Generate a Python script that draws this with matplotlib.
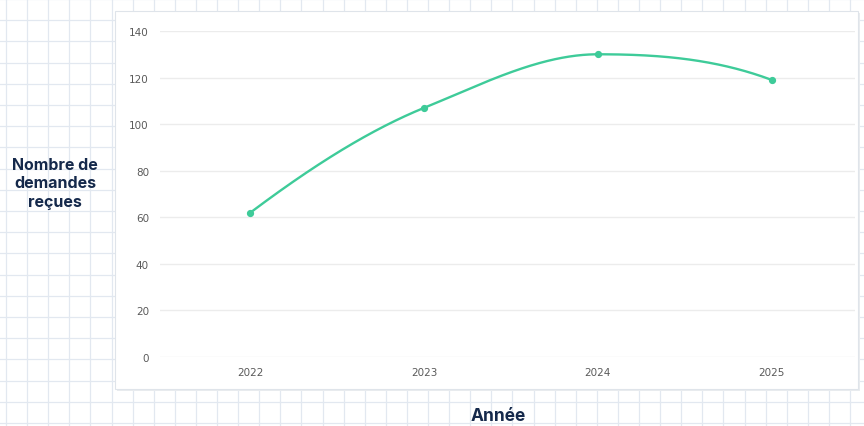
import numpy as np
import matplotlib
matplotlib.use("Agg")
import matplotlib.pyplot as plt
from matplotlib.patches import Rectangle

years = [2022, 2023, 2024, 2025]
demandes = [62, 107, 130, 119]
y_ticks = [0, 20, 40, 60, 80, 100, 120, 140]

W, H = 864, 427
navy = "#15294b"
green = "#3ecb99"


def pchip(x, y, n=200):
    # monotone cubic curve through the points (Fritsch-Carlson)
    x = np.asarray(x, float)
    y = np.asarray(y, float)
    h = np.diff(x)
    d = np.diff(y) / h
    m = np.zeros_like(y)
    for i in range(1, len(y) - 1):
        if d[i - 1] * d[i] > 0:
            w1 = 2 * h[i] + h[i - 1]
            w2 = h[i] + 2 * h[i - 1]
            m[i] = (w1 + w2) / (w1 / d[i - 1] + w2 / d[i])
    m[0] = ((2 * h[0] + h[1]) * d[0] - h[0] * d[1]) / (h[0] + h[1])
    m[-1] = ((2 * h[-1] + h[-2]) * d[-1] - h[-1] * d[-2]) / (h[-1] + h[-2])
    xs, ys = [], []
    for i in range(len(h)):
        t = np.linspace(0, 1, n)
        h00 = 2 * t**3 - 3 * t**2 + 1
        h10 = t**3 - 2 * t**2 + t
        h01 = -2 * t**3 + 3 * t**2
        h11 = t**3 - t**2
        xs.append(x[i] + t * h[i])
        ys.append(h00 * y[i] + h10 * h[i] * m[i] + h01 * y[i + 1] + h11 * h[i] * m[i + 1])
    return np.concatenate(xs), np.concatenate(ys)


fig = plt.figure(figsize=(W / 100, H / 100), dpi=100)
fig.patch.set_facecolor("white")

# grid paper background, in pixel coordinates
bg = fig.add_axes([0, 0, 1, 1])
bg.set_xlim(0, W)
bg.set_ylim(H, 0)
bg.axis("off")
for gx in np.arange(6, W, 21.1):
    bg.axvline(gx, color="#e2e8f0", lw=0.9)
for gy in np.arange(0, H, 21.2):
    bg.axhline(gy, color="#e2e8f0", lw=0.9)

# white panel with a faint edge
px0, py0, px1, py1 = 115, 12, 858, 390
bg.add_patch(Rectangle((px0 + 1.5, py0 + 1.5), px1 - px0, py1 - py0,
                       facecolor="#e9ecef", edgecolor="none", zorder=2))
bg.add_patch(Rectangle((px0, py0), px1 - px0, py1 - py0,
                       facecolor="white", edgecolor="#dfe4ea", lw=0.8, zorder=3))

# data area
ax0, ay0, ax1, ay1 = 160, 32, 855, 358
ax = fig.add_axes([ax0 / W, 1 - ay1 / H, (ax1 - ax0) / W, (ay1 - ay0) / H])
ax.patch.set_alpha(0)
ax.set_xlim(2021.48, 2025.48)
ax.set_ylim(0, 140)

xs, ys = pchip(years, demandes)
ax.plot(xs, ys, color=green, lw=1.7, solid_capstyle="round", zorder=3, clip_on=False)
ax.plot(years, demandes, "o", color=green, ms=4.2, zorder=4, clip_on=False)

ax.set_yticks(y_ticks)
ax.set_xticks(years)
ax.grid(axis="y", color="#ececec", lw=1.0)
for s in ax.spines.values():
    s.set_visible(False)
ax.tick_params(length=0, labelsize=7.5, labelcolor="#5a5a5a")
ax.tick_params(axis="y", pad=8)
ax.tick_params(axis="x", pad=7)

fig.text(55 / W, 1 - 184 / H, "Nombre de\ndemandes\nreçues", ha="center", va="center",
         fontsize=11.5, fontweight="bold", color=navy, family="Inter", linespacing=1.32)
fig.text(498 / W, 2 / H, "Année", ha="center", va="bottom",
         fontsize=12.5, fontweight="bold", color=navy, family="Inter")

fig.savefig("out.png", dpi=100)
